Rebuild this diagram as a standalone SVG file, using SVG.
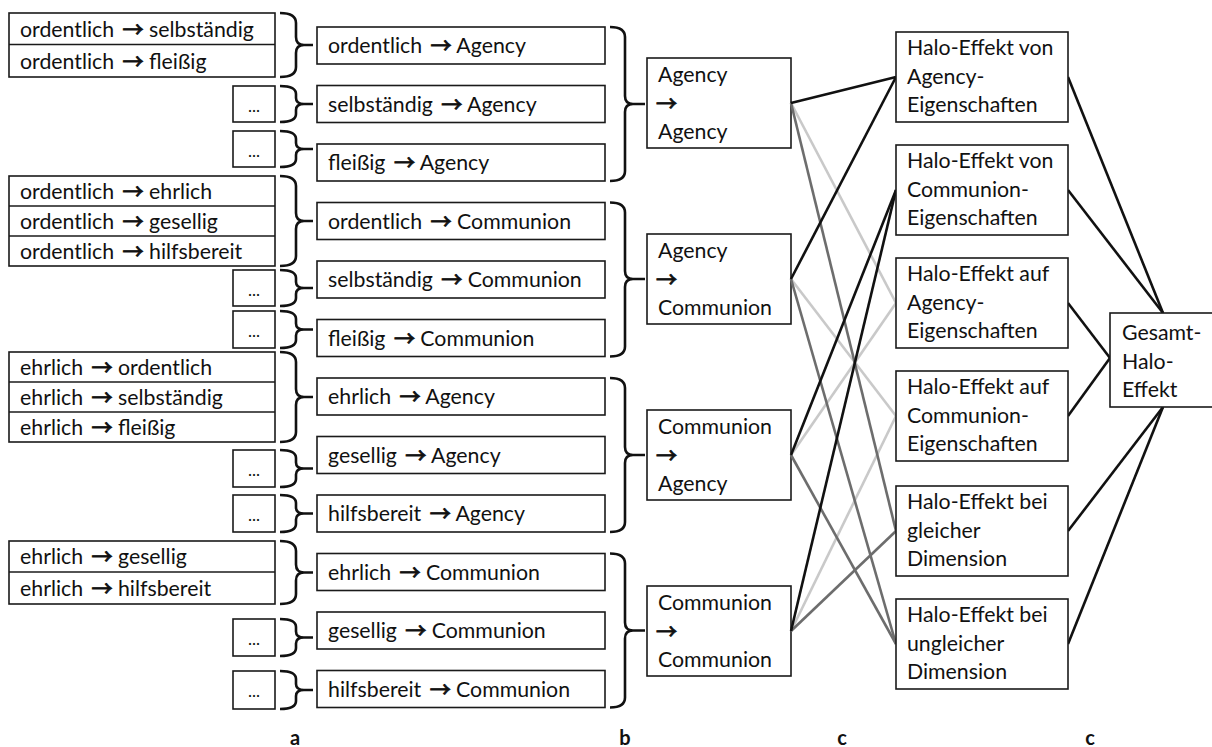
<svg xmlns="http://www.w3.org/2000/svg" width="1212" height="747" viewBox="0 0 1212 747">
<style>
.bx{fill:#fff;stroke:#1a1a1a;stroke-width:1.6}
.dv{stroke:#1a1a1a;stroke-width:1.6}
.t{font-family:Lato,"Liberation Sans",sans-serif;font-size:21.3px;fill:#111}
.ar{font-family:"Noto Sans CJK SC","DejaVu Sans",sans-serif;font-size:21px;stroke:#111;stroke-width:0.9}
.d{font-family:Lato,"Liberation Sans",sans-serif;font-size:17px;fill:#111;text-anchor:middle}
.lb{font-family:Lato,"Liberation Sans",sans-serif;font-size:20px;font-weight:bold;fill:#111;text-anchor:middle}
.br{fill:none;stroke:#111;stroke-width:2.6;stroke-linejoin:round}
.k{stroke:#111;stroke-width:2.6;fill:none}
.lg{stroke:#c9c9c9;stroke-width:2.6;fill:none}
.dg{stroke:#6d6d6d;stroke-width:2.6;fill:none}
</style>
<rect width="1212" height="747" fill="#fff"/>

<!-- column a -->
<g id="a1"><rect class="bx" x="9" y="13" width="266" height="64"/><line class="dv" x1="9" y1="44.5" x2="275" y2="44.5"/>
<text class="t" x="20" y="37">ordentlich <tspan class="ar" dx="3">→</tspan> selbständig</text><text class="t" x="20" y="69">ordentlich <tspan class="ar" dx="3">→</tspan> fleißig</text></g>
<g id="a2"><rect class="bx" x="233" y="86" width="42" height="36"/><text class="d" x="254" y="112">...</text></g>
<g id="a3"><rect class="bx" x="233" y="131" width="42" height="36"/><text class="d" x="254" y="157">...</text></g>
<g id="a4"><rect class="bx" x="9" y="176" width="266" height="90"/><line class="dv" x1="9" y1="206" x2="275" y2="206"/><line class="dv" x1="9" y1="236" x2="275" y2="236"/>
<text class="t" x="20" y="199">ordentlich <tspan class="ar" dx="3">→</tspan> ehrlich</text><text class="t" x="20" y="229">ordentlich <tspan class="ar" dx="3">→</tspan> gesellig</text><text class="t" x="20" y="259">ordentlich <tspan class="ar" dx="3">→</tspan> hilfsbereit</text></g>
<g id="a5"><rect class="bx" x="233" y="270" width="42" height="36"/><text class="d" x="254" y="296">...</text></g>
<g id="a6"><rect class="bx" x="233" y="311" width="42" height="37"/><text class="d" x="254" y="337">...</text></g>
<g id="a7"><rect class="bx" x="9" y="352" width="266" height="90"/><line class="dv" x1="9" y1="382" x2="275" y2="382"/><line class="dv" x1="9" y1="412" x2="275" y2="412"/>
<text class="t" x="20" y="375">ehrlich <tspan class="ar" dx="3">→</tspan> ordentlich</text><text class="t" x="20" y="405">ehrlich <tspan class="ar" dx="3">→</tspan> selbständig</text><text class="t" x="20" y="435">ehrlich <tspan class="ar" dx="3">→</tspan> fleißig</text></g>
<g id="a8"><rect class="bx" x="233" y="450" width="42" height="37"/><text class="d" x="254" y="476">...</text></g>
<g id="a9"><rect class="bx" x="233" y="495" width="42" height="37"/><text class="d" x="254" y="521">...</text></g>
<g id="a10"><rect class="bx" x="9" y="541" width="266" height="63"/><line class="dv" x1="9" y1="572" x2="275" y2="572"/>
<text class="t" x="20" y="564">ehrlich <tspan class="ar" dx="3">→</tspan> gesellig</text><text class="t" x="20" y="596">ehrlich <tspan class="ar" dx="3">→</tspan> hilfsbereit</text></g>
<g id="a11"><rect class="bx" x="233" y="619" width="42" height="37"/><text class="d" x="254" y="645">...</text></g>
<g id="a12"><rect class="bx" x="233" y="671" width="42" height="38"/><text class="d" x="254" y="697">...</text></g>

<!-- column b -->
<g id="b1"><rect class="bx" x="317" y="27" width="288" height="37"/><text class="t" x="328" y="53">ordentlich <tspan class="ar" dx="3">→</tspan> Agency</text></g>
<g id="b2"><rect class="bx" x="317" y="85.5" width="288" height="37"/><text class="t" x="328" y="111.5">selbständig <tspan class="ar" dx="3">→</tspan> Agency</text></g>
<g id="b3"><rect class="bx" x="317" y="144" width="288" height="37"/><text class="t" x="328" y="170">fleißig <tspan class="ar" dx="3">→</tspan> Agency</text></g>
<g id="b4"><rect class="bx" x="317" y="202.5" width="288" height="37"/><text class="t" x="328" y="228.5">ordentlich <tspan class="ar" dx="3">→</tspan> Communion</text></g>
<g id="b5"><rect class="bx" x="317" y="261" width="288" height="37"/><text class="t" x="328" y="287">selbständig <tspan class="ar" dx="3">→</tspan> Communion</text></g>
<g id="b6"><rect class="bx" x="317" y="319.5" width="288" height="37"/><text class="t" x="328" y="345.5">fleißig <tspan class="ar" dx="3">→</tspan> Communion</text></g>
<g id="b7"><rect class="bx" x="317" y="378" width="288" height="37"/><text class="t" x="328" y="404">ehrlich <tspan class="ar" dx="3">→</tspan> Agency</text></g>
<g id="b8"><rect class="bx" x="317" y="436.5" width="288" height="37"/><text class="t" x="328" y="462.5">gesellig <tspan class="ar" dx="3">→</tspan> Agency</text></g>
<g id="b9"><rect class="bx" x="317" y="495" width="288" height="37"/><text class="t" x="328" y="521">hilfsbereit <tspan class="ar" dx="3">→</tspan> Agency</text></g>
<g id="b10"><rect class="bx" x="317" y="553.5" width="288" height="37"/><text class="t" x="328" y="579.5">ehrlich <tspan class="ar" dx="3">→</tspan> Communion</text></g>
<g id="b11"><rect class="bx" x="317" y="612" width="288" height="37"/><text class="t" x="328" y="638">gesellig <tspan class="ar" dx="3">→</tspan> Communion</text></g>
<g id="b12"><rect class="bx" x="317" y="670.5" width="288" height="37"/><text class="t" x="328" y="696.5">hilfsbereit <tspan class="ar" dx="3">→</tspan> Communion</text></g>

<!-- column c -->
<g id="c1"><rect class="bx" x="647" y="58" width="144" height="90"/><text class="t" x="658" y="82">Agency</text><text class="t ar" x="656" y="110.5">→</text><text class="t" x="658" y="139">Agency</text></g>
<g id="c2"><rect class="bx" x="647" y="234" width="144" height="90"/><text class="t" x="658" y="258">Agency</text><text class="t ar" x="656" y="286.5">→</text><text class="t" x="658" y="315">Communion</text></g>
<g id="c3"><rect class="bx" x="647" y="410" width="144" height="90"/><text class="t" x="658" y="434">Communion</text><text class="t ar" x="656" y="462.5">→</text><text class="t" x="658" y="491">Agency</text></g>
<g id="c4"><rect class="bx" x="647" y="586" width="144" height="90"/><text class="t" x="658" y="610">Communion</text><text class="t ar" x="656" y="638.5">→</text><text class="t" x="658" y="667">Communion</text></g>

<!-- braces -->
<g id="braces">
<path class="br" d="M280,13 Q296,13 296,23 L296,37 Q296,45 304,45 L313,45 M304,45 Q296,45 296,53 L296,67 Q296,77 280,77"/>
<path class="br" d="M280,86 Q296,86 296,94 L296,98 Q296,104 304,104 L313,104 M304,104 Q296,104 296,110 L296,114 Q296,122 280,122"/>
<path class="br" d="M280,131 Q296,131 296,139 L296,143 Q296,149 304,149 L313,149 M304,149 Q296,149 296,155 L296,159 Q296,167 280,167"/>
<path class="br" d="M280,176 Q296,176 296,186 L296,213 Q296,221 304,221 L313,221 M304,221 Q296,221 296,229 L296,256 Q296,266 280,266"/>
<path class="br" d="M280,270 Q296,270 296,278 L296,282 Q296,288 304,288 L313,288 M304,288 Q296,288 296,294 L296,298 Q296,306 280,306"/>
<path class="br" d="M280,311 Q296,311 296,319 L296,323.5 Q296,329.5 304,329.5 L313,329.5 M304,329.5 Q296,329.5 296,335.5 L296,340 Q296,348 280,348"/>
<path class="br" d="M280,352 Q296,352 296,362 L296,389 Q296,397 304,397 L313,397 M304,397 Q296,397 296,405 L296,432 Q296,442 280,442"/>
<path class="br" d="M280,450 Q296,450 296,458 L296,462.5 Q296,468.5 304,468.5 L313,468.5 M304,468.5 Q296,468.5 296,474.5 L296,479 Q296,487 280,487"/>
<path class="br" d="M280,495 Q296,495 296,503 L296,507.5 Q296,513.5 304,513.5 L313,513.5 M304,513.5 Q296,513.5 296,519.5 L296,524 Q296,532 280,532"/>
<path class="br" d="M280,541 Q296,541 296,551 L296,564.5 Q296,572.5 304,572.5 L313,572.5 M304,572.5 Q296,572.5 296,580.5 L296,594 Q296,604 280,604"/>
<path class="br" d="M280,619 Q296,619 296,627 L296,631.5 Q296,637.5 304,637.5 L313,637.5 M304,637.5 Q296,637.5 296,643.5 L296,648 Q296,656 280,656"/>
<path class="br" d="M280,671 Q296,671 296,679 L296,684 Q296,690 304,690 L313,690 M304,690 Q296,690 296,696 L296,701 Q296,709 280,709"/>
<path class="br" d="M610,27 Q625,27 625,37 L625,96 Q625,104 633,104 L645,104 M633,104 Q625,104 625,112 L625,171 Q625,181 610,181"/>
<path class="br" d="M610,202.5 Q625,202.5 625,212.5 L625,271 Q625,279 633,279 L645,279 M633,279 Q625,279 625,287 L625,346.5 Q625,356.5 610,356.5"/>
<path class="br" d="M610,378 Q625,378 625,388 L625,447 Q625,455 633,455 L645,455 M633,455 Q625,455 625,463 L625,522 Q625,532 610,532"/>
<path class="br" d="M610,553.5 Q625,553.5 625,563.5 L625,622.5 Q625,630.5 633,630.5 L645,630.5 M633,630.5 Q625,630.5 625,638.5 L625,697.5 Q625,707.5 610,707.5"/>
</g>

<!-- connectors -->
<g id="connectors">
<line class="lg" x1="791" y1="103" x2="896" y2="303"/>
<line class="lg" x1="791" y1="279" x2="896" y2="416"/>
<line class="lg" x1="791" y1="455" x2="896" y2="303"/>
<line class="lg" x1="791" y1="631" x2="896" y2="416"/>
<line class="dg" x1="791" y1="103" x2="896" y2="531"/>
<line class="dg" x1="791" y1="279" x2="896" y2="644"/>
<line class="dg" x1="791" y1="455" x2="896" y2="644"/>
<line class="dg" x1="791" y1="631" x2="896" y2="531"/>
<line class="k" x1="791" y1="103" x2="896" y2="77"/>
<line class="k" x1="791" y1="279" x2="896" y2="77"/>
<line class="k" x1="791" y1="455" x2="896" y2="190"/>
<line class="k" x1="791" y1="631" x2="896" y2="190"/>
<line class="k" x1="1068" y1="77" x2="1163" y2="313"/>
<line class="k" x1="1068" y1="190" x2="1163" y2="313"/>
<line class="k" x1="1068" y1="303" x2="1110" y2="358"/>
<line class="k" x1="1068" y1="416" x2="1110" y2="358"/>
<line class="k" x1="1068" y1="531" x2="1163" y2="407"/>
<line class="k" x1="1068" y1="644" x2="1163" y2="407"/>
</g>

<!-- column c2 -->
<g id="h1"><rect class="bx" x="896" y="32" width="172" height="90"/><text class="t" x="907" y="55">Halo-Effekt von</text><text class="t" x="907" y="83.5">Agency-</text><text class="t" x="907" y="112">Eigenschaften</text></g>
<g id="h2"><rect class="bx" x="896" y="145" width="172" height="90"/><text class="t" x="907" y="168">Halo-Effekt von</text><text class="t" x="907" y="196.5">Communion-</text><text class="t" x="907" y="225">Eigenschaften</text></g>
<g id="h3"><rect class="bx" x="896" y="258" width="172" height="90"/><text class="t" x="907" y="281">Halo-Effekt auf</text><text class="t" x="907" y="309.5">Agency-</text><text class="t" x="907" y="338">Eigenschaften</text></g>
<g id="h4"><rect class="bx" x="896" y="371" width="172" height="90"/><text class="t" x="907" y="394">Halo-Effekt auf</text><text class="t" x="907" y="422.5">Communion-</text><text class="t" x="907" y="451">Eigenschaften</text></g>
<g id="h5"><rect class="bx" x="896" y="486" width="172" height="90"/><text class="t" x="907" y="509">Halo-Effekt bei</text><text class="t" x="907" y="537.5">gleicher</text><text class="t" x="907" y="566">Dimension</text></g>
<g id="h6"><rect class="bx" x="896" y="599" width="172" height="90"/><text class="t" x="907" y="622">Halo-Effekt bei</text><text class="t" x="907" y="650.5">ungleicher</text><text class="t" x="907" y="679">Dimension</text></g>
<g id="g"><rect class="bx" x="1110" y="313" width="104" height="94"/><text class="t" x="1122" y="340">Gesamt-</text><text class="t" x="1122" y="368.5">Halo-</text><text class="t" x="1122" y="397">Effekt</text></g>

<!-- column labels -->
<g id="labels">
<text class="lb" x="295" y="745">a</text>
<text class="lb" x="625" y="745">b</text>
<text class="lb" x="842" y="745">c</text>
<text class="lb" x="1090" y="745">c</text>
</g>
</svg>
